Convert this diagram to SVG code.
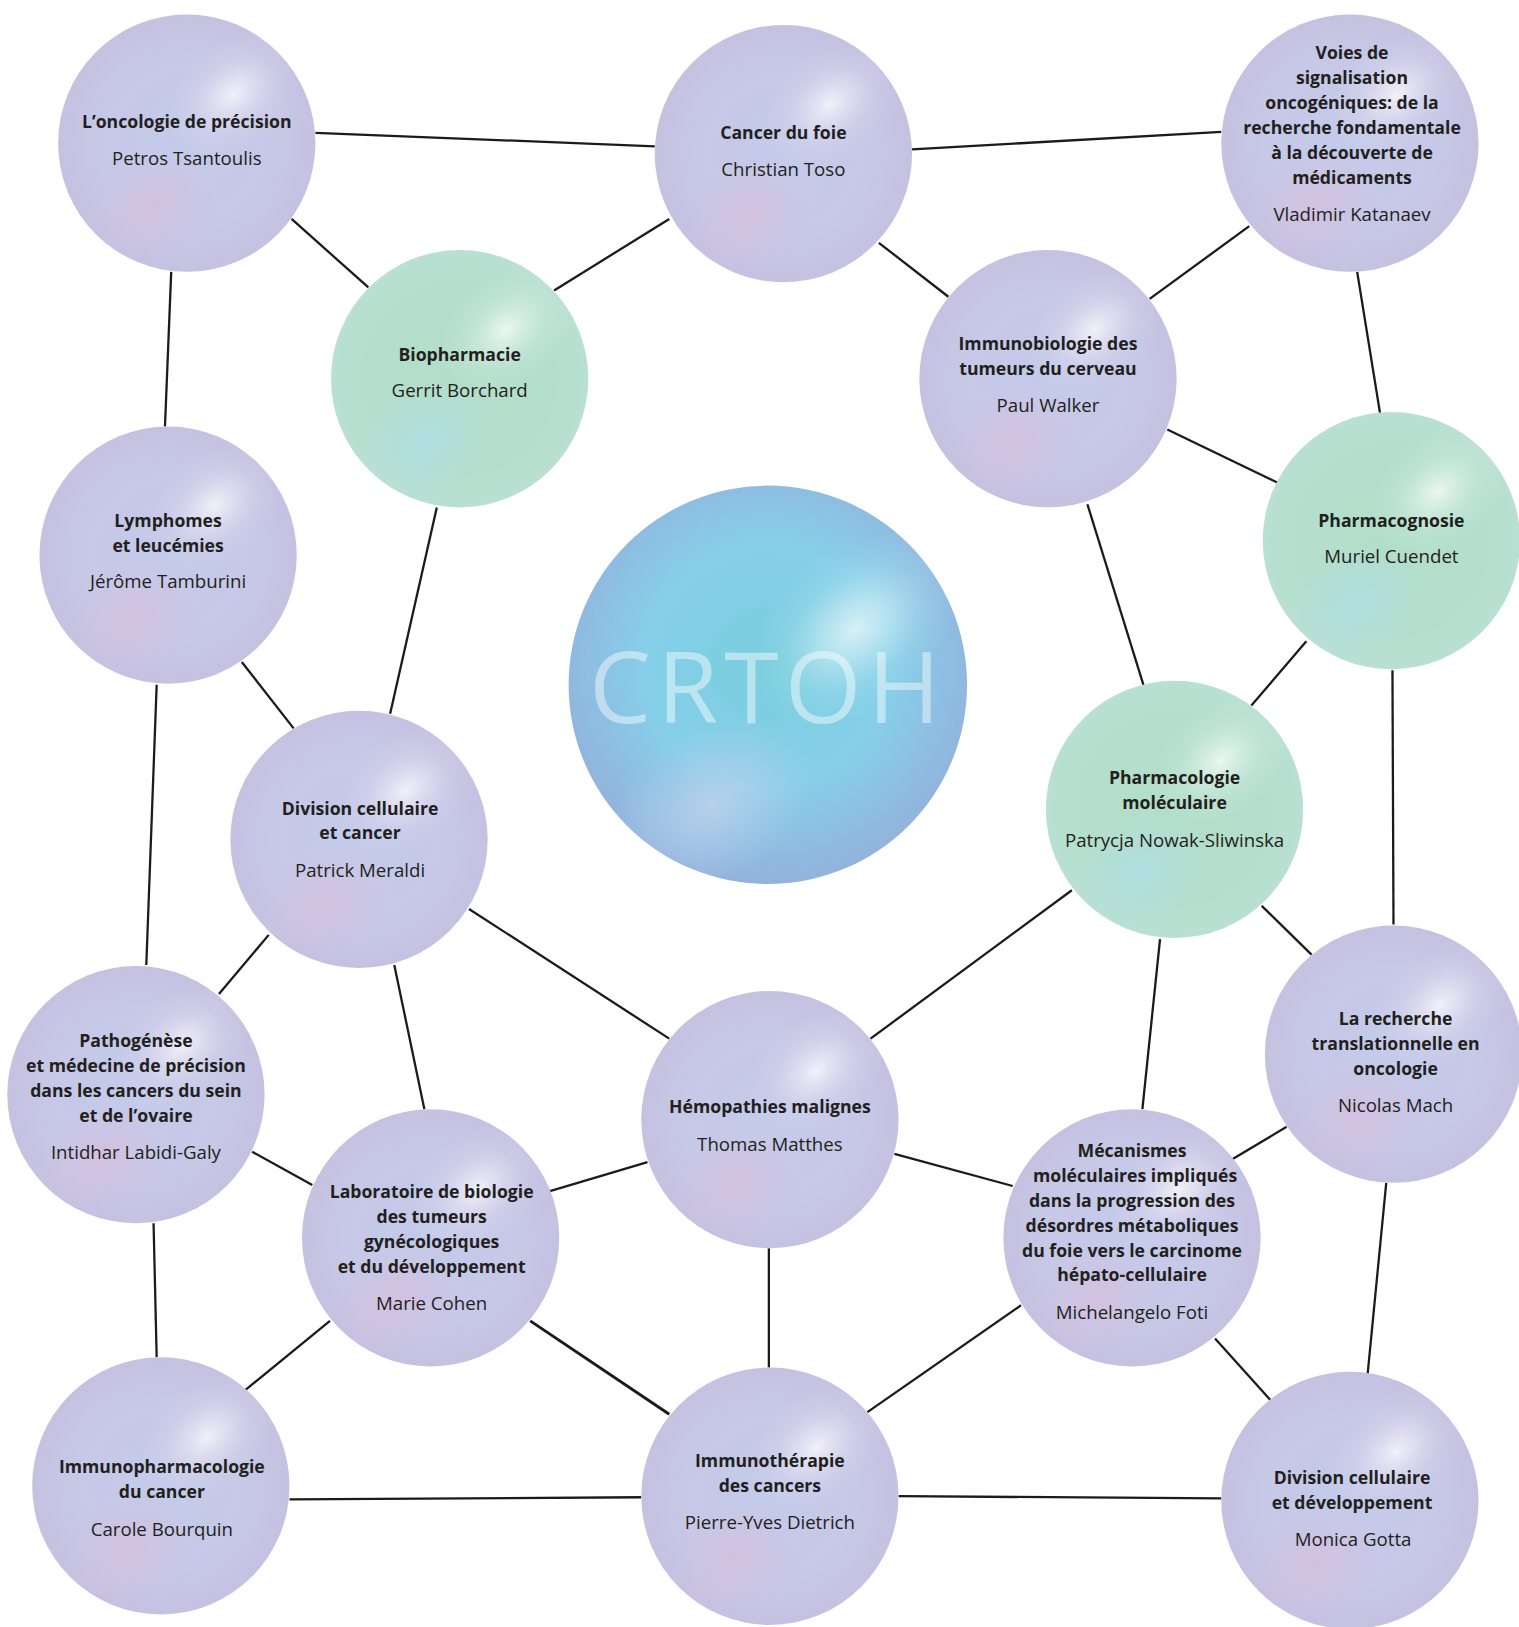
<svg xmlns="http://www.w3.org/2000/svg" xmlns:xlink="http://www.w3.org/1999/xlink" width="1519" height="1627" viewBox="0 0 1519 1627">
  <style>
    .edge { stroke: #1c1a1c; stroke-width: 2.2; fill: none; stroke-linecap: butt; }
    .t { font-family: "Open Sans", "Noto Sans", "Liberation Sans", sans-serif; font-weight: 700; font-size: 17px; fill: #231f20; text-anchor: middle; }
    .n { font-family: "Open Sans", "Noto Sans", "Liberation Sans", sans-serif; font-weight: 400; font-size: 18px; fill: #231f20; text-anchor: middle; }
    .logo { font-family: "Open Sans", "Noto Sans", "Liberation Sans", sans-serif; font-weight: 400; font-size: 95px; fill: #ffffff; fill-opacity: 0.45; text-anchor: middle; letter-spacing: 6px; }
  </style>
  <defs>
    <!-- lavender sphere -->
    <radialGradient id="lavBase" cx="0.5" cy="0.5" r="0.5">
      <stop offset="0" stop-color="#c3cbea"/>
      <stop offset="0.7" stop-color="#c6c8e6"/>
      <stop offset="1" stop-color="#c5c1e1"/>
    </radialGradient>
    <radialGradient id="lavHi" cx="0.5" cy="0.5" r="0.5" gradientTransform="translate(0.68 0.31) rotate(-40) scale(0.6 0.42) translate(-0.5 -0.5)">
      <stop offset="0" stop-color="#ffffff" stop-opacity="0.75"/>
      <stop offset="0.25" stop-color="#f6f0f8" stop-opacity="0.55"/>
      <stop offset="0.6" stop-color="#ebe2f2" stop-opacity="0.2"/>
      <stop offset="1" stop-color="#e8dcf0" stop-opacity="0"/>
    </radialGradient>
    <radialGradient id="lavPink" cx="0.5" cy="0.5" r="0.5" gradientTransform="translate(0.37 0.74) rotate(-30) scale(0.55 0.42) translate(-0.5 -0.5)">
      <stop offset="0" stop-color="#dcbcdc" stop-opacity="0.65"/>
      <stop offset="1" stop-color="#d8c0e0" stop-opacity="0"/>
    </radialGradient>
    <!-- green sphere -->
    <radialGradient id="grnBase" cx="0.5" cy="0.5" r="0.5">
      <stop offset="0" stop-color="#b2dec8"/>
      <stop offset="0.75" stop-color="#b4dfcd"/>
      <stop offset="1" stop-color="#b9e0d3"/>
    </radialGradient>
    <radialGradient id="grnHi" cx="0.5" cy="0.5" r="0.5" gradientTransform="translate(0.68 0.31) rotate(-40) scale(0.6 0.42) translate(-0.5 -0.5)">
      <stop offset="0" stop-color="#ffffff" stop-opacity="0.75"/>
      <stop offset="0.25" stop-color="#eef8f3" stop-opacity="0.55"/>
      <stop offset="0.6" stop-color="#dff2ea" stop-opacity="0.2"/>
      <stop offset="1" stop-color="#d8f0e6" stop-opacity="0"/>
    </radialGradient>
    <radialGradient id="grnBlue" cx="0.5" cy="0.5" r="0.5" gradientTransform="translate(0.37 0.74) rotate(-30) scale(0.55 0.42) translate(-0.5 -0.5)">
      <stop offset="0" stop-color="#b0dde6" stop-opacity="0.8"/>
      <stop offset="1" stop-color="#b2dde6" stop-opacity="0"/>
    </radialGradient>
    <!-- central blue sphere -->
    <radialGradient id="bluBase" cx="0.5" cy="0.45" r="0.55">
      <stop offset="0" stop-color="#78cedd"/>
      <stop offset="0.55" stop-color="#86cfe9"/>
      <stop offset="1" stop-color="#93b2dc"/>
    </radialGradient>
    <radialGradient id="bluHi" cx="0.5" cy="0.5" r="0.5" gradientTransform="translate(0.72 0.36) rotate(-40) scale(0.6 0.4) translate(-0.5 -0.5)">
      <stop offset="0" stop-color="#e8f5f8" stop-opacity="0.85"/>
      <stop offset="0.3" stop-color="#d4f0f5" stop-opacity="0.6"/>
      <stop offset="0.65" stop-color="#c0e8f2" stop-opacity="0.2"/>
      <stop offset="1" stop-color="#b0e2ef" stop-opacity="0"/>
    </radialGradient>
    <radialGradient id="bluLow" cx="0.5" cy="0.5" r="0.5" gradientTransform="translate(0.36 0.8) rotate(-30) scale(0.55 0.38) translate(-0.5 -0.5)">
      <stop offset="0" stop-color="#bcd2ec" stop-opacity="0.9"/>
      <stop offset="1" stop-color="#b4cdea" stop-opacity="0"/>
    </radialGradient>

    <g id="sphL">
      <circle r="124" fill="url(#lavBase)"/>
      <circle r="124" fill="url(#lavHi)"/>
      <circle r="124" fill="url(#lavPink)"/>
    </g>
    <g id="sphG">
      <circle r="124" fill="url(#grnBase)"/>
      <circle r="124" fill="url(#grnHi)"/>
      <circle r="124" fill="url(#grnBlue)"/>
    </g>
  </defs>

  <rect width="1519" height="1627" fill="#ffffff"/>

  <g transform="scale(1.0376)">
    <!-- connectors -->
    <g id="connectors">
      <line class="edge" x1="304" y1="128" x2="631" y2="141"/>
      <line class="edge" x1="879" y1="144" x2="1177" y2="127"/>
      <line class="edge" x1="281" y1="211" x2="355" y2="277"/>
      <line class="edge" x1="645" y1="211" x2="534" y2="280"/>
      <line class="edge" x1="847" y1="234" x2="914" y2="286"/>
      <line class="edge" x1="1204" y1="218" x2="1108" y2="288"/>
      <line class="edge" x1="165" y1="262" x2="159" y2="411"/>
      <line class="edge" x1="1308" y1="262" x2="1330" y2="398"/>
      <line class="edge" x1="1125" y1="414" x2="1231" y2="465"/>
      <line class="edge" x1="421" y1="489" x2="376" y2="688"/>
      <line class="edge" x1="233" y1="638" x2="283" y2="702"/>
      <line class="edge" x1="1048" y1="486" x2="1102" y2="660"/>
      <line class="edge" x1="1259" y1="618" x2="1206" y2="680"/>
      <line class="edge" x1="151" y1="660" x2="141" y2="930"/>
      <line class="edge" x1="1342" y1="646" x2="1343" y2="891"/>
      <line class="edge" x1="259" y1="901" x2="211" y2="958"/>
      <line class="edge" x1="452" y1="876" x2="645" y2="1001"/>
      <line class="edge" x1="380" y1="930" x2="409" y2="1069"/>
      <line class="edge" x1="1033" y1="858" x2="839" y2="1001"/>
      <line class="edge" x1="1216" y1="873" x2="1264" y2="920"/>
      <line class="edge" x1="1118" y1="905" x2="1101" y2="1069"/>
      <line class="edge" x1="243" y1="1110" x2="301" y2="1142"/>
      <line class="edge" x1="624" y1="1120" x2="530" y2="1148"/>
      <line class="edge" x1="862" y1="1112" x2="976" y2="1143"/>
      <line class="edge" x1="1240" y1="1086" x2="1188" y2="1117"/>
      <line class="edge" x1="148" y1="1179" x2="151" y2="1308"/>
      <line class="edge" x1="318" y1="1273" x2="236" y2="1340"/>
      <line class="edge" x1="511" y1="1273" x2="645" y2="1363" style="stroke-width:2.8"/>
      <line class="edge" x1="741" y1="1203" x2="741" y2="1318"/>
      <line class="edge" x1="984" y1="1258" x2="836" y2="1361"/>
      <line class="edge" x1="1171" y1="1290" x2="1225" y2="1350"/>
      <line class="edge" x1="1336" y1="1140" x2="1318" y2="1325"/>
      <line class="edge" x1="279" y1="1445" x2="618" y2="1443"/>
      <line class="edge" x1="866" y1="1442" x2="1177" y2="1444"/>
    </g>

    <!-- centre -->
    <g id="crtoh">
      <circle cx="740" cy="660" r="192" fill="url(#bluBase)"/>
      <circle cx="740" cy="660" r="192" fill="url(#bluHi)"/>
      <circle cx="740" cy="660" r="192" fill="url(#bluLow)"/>
      <text class="logo" x="740" y="697">CRTOH</text>
    </g>

    <g id="oncologie-precision">
      <use xlink:href="#sphL" x="180" y="138"/>
      <text class="t" x="180" y="123">L’oncologie de précision</text>
      <text class="n" x="180" y="159">Petros Tsantoulis</text>
    </g>

    <g id="cancer-foie">
      <use xlink:href="#sphL" x="755" y="148"/>
      <text class="t" x="755" y="134">Cancer du foie</text>
      <text class="n" x="755" y="170">Christian Toso</text>
    </g>

    <g id="voies-signalisation">
      <use xlink:href="#sphL" x="1301" y="138"/>
      <text class="t" x="1303" y="57">Voies de</text>
      <text class="t" x="1303" y="81">signalisation</text>
      <text class="t" x="1303" y="105">oncogéniques: de la</text>
      <text class="t" x="1303" y="129">recherche fondamentale</text>
      <text class="t" x="1303" y="153">à la découverte de</text>
      <text class="t" x="1303" y="177">médicaments</text>
      <text class="n" x="1303" y="213">Vladimir Katanaev</text>
    </g>

    <g id="biopharmacie">
      <use xlink:href="#sphG" x="443" y="365"/>
      <text class="t" x="443" y="348">Biopharmacie</text>
      <text class="n" x="443" y="383">Gerrit Borchard</text>
    </g>

    <g id="immunobiologie">
      <use xlink:href="#sphL" x="1010" y="365"/>
      <text class="t" x="1010" y="337">Immunobiologie des</text>
      <text class="t" x="1010" y="361">tumeurs du cerveau</text>
      <text class="n" x="1010" y="397">Paul Walker</text>
    </g>

    <g id="lymphomes">
      <use xlink:href="#sphL" x="162" y="535"/>
      <text class="t" x="162" y="508">Lymphomes</text>
      <text class="t" x="162" y="532">et leucémies</text>
      <text class="n" x="162" y="567">Jérôme Tamburini</text>
    </g>

    <g id="pharmacognosie">
      <use xlink:href="#sphG" x="1341" y="521"/>
      <text class="t" x="1341" y="508">Pharmacognosie</text>
      <text class="n" x="1341" y="543">Muriel Cuendet</text>
    </g>

    <g id="division-cancer">
      <use xlink:href="#sphL" x="346" y="809"/>
      <text class="t" x="347" y="785">Division cellulaire</text>
      <text class="t" x="347" y="809">et cancer</text>
      <text class="n" x="347" y="845">Patrick Meraldi</text>
    </g>

    <g id="pharmacologie">
      <use xlink:href="#sphG" x="1132" y="780"/>
      <text class="t" x="1132" y="756">Pharmacologie</text>
      <text class="t" x="1132" y="780">moléculaire</text>
      <text class="n" x="1132" y="816">Patrycja Nowak-Sliwinska</text>
    </g>

    <g id="pathogenese">
      <use xlink:href="#sphL" x="131" y="1055"/>
      <text class="t" x="131" y="1009">Pathogénèse</text>
      <text class="t" x="131" y="1033">et médecine de précision</text>
      <text class="t" x="131" y="1057">dans les cancers du sein</text>
      <text class="t" x="131" y="1081">et de l’ovaire</text>
      <text class="n" x="131" y="1117">Intidhar Labidi-Galy</text>
    </g>

    <g id="hemopathies">
      <use xlink:href="#sphL" x="742" y="1079"/>
      <text class="t" x="742" y="1073">Hémopathies malignes</text>
      <text class="n" x="742" y="1109">Thomas Matthes</text>
    </g>

    <g id="recherche-translationnelle">
      <use xlink:href="#sphL" x="1343" y="1016"/>
      <text class="t" x="1345" y="988">La recherche</text>
      <text class="t" x="1345" y="1012">translationnelle en</text>
      <text class="t" x="1345" y="1036">oncologie</text>
      <text class="n" x="1345" y="1072">Nicolas Mach</text>
    </g>

    <g id="laboratoire-biologie">
      <use xlink:href="#sphL" x="415" y="1193"/>
      <text class="t" x="416" y="1155">Laboratoire de biologie</text>
      <text class="t" x="416" y="1179">des tumeurs</text>
      <text class="t" x="416" y="1203">gynécologiques</text>
      <text class="t" x="416" y="1227">et du développement</text>
      <text class="n" x="416" y="1263">Marie Cohen</text>
    </g>

    <g id="mecanismes">
      <use xlink:href="#sphL" x="1091" y="1193"/>
      <text class="t" x="1091" y="1115">Mécanismes</text>
      <text class="t" x="1094" y="1139">moléculaires impliqués</text>
      <text class="t" x="1091" y="1163">dans la progression des</text>
      <text class="t" x="1091" y="1187">désordres métaboliques</text>
      <text class="t" x="1091" y="1211">du foie vers le carcinome</text>
      <text class="t" x="1091" y="1235">hépato-cellulaire</text>
      <text class="n" x="1091" y="1271">Michelangelo Foti</text>
    </g>

    <g id="immunopharmacologie">
      <use xlink:href="#sphL" x="155" y="1432"/>
      <text class="t" x="156" y="1420">Immunopharmacologie</text>
      <text class="t" x="156" y="1444">du cancer</text>
      <text class="n" x="156" y="1480">Carole Bourquin</text>
    </g>

    <g id="immunotherapie">
      <use xlink:href="#sphL" x="742" y="1442"/>
      <text class="t" x="742" y="1414">Immunothérapie</text>
      <text class="t" x="742" y="1438">des cancers</text>
      <text class="n" x="742" y="1474">Pierre-Yves Dietrich</text>
    </g>

    <g id="division-developpement">
      <use xlink:href="#sphL" x="1301" y="1446"/>
      <text class="t" x="1303" y="1430">Division cellulaire</text>
      <text class="t" x="1303" y="1454">et développement</text>
      <text class="n" x="1304" y="1490">Monica Gotta</text>
    </g>
  </g>
</svg>
